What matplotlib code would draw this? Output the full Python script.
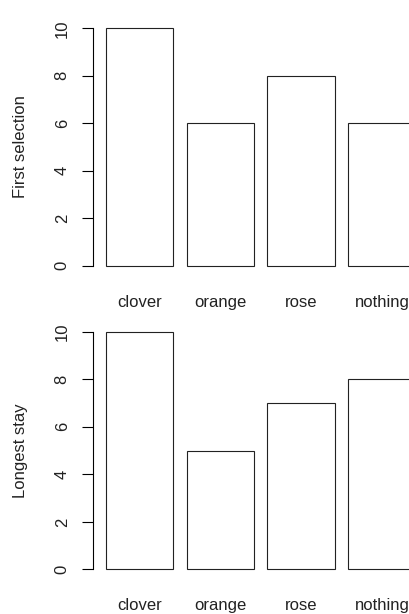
import numpy as np
import matplotlib.pyplot as plt

plt.rcParams['font.family'] = ['Liberation Sans', 'DejaVu Sans']

categories = ['clover', 'orange', 'rose', 'nothing']
first_selection = [10, 6, 8, 6]
longest_stay = [10, 5, 7, 8]

# bar positions like R's barplot: width 1, space 0.2
width = 1.0
space = 0.2
lefts = space + np.arange(len(categories)) * (width + space)
centers = lefts + width / 2

fig = plt.figure(figsize=(4.1, 6.14), dpi=100)

def panel(rect, values, ylabel):
    ax = fig.add_axes(rect)
    ax.bar(lefts, values, width=width, align='edge', color='white',
           edgecolor='#222222', linewidth=0.8)
    ax.set_xlim(0.016, 4.715)
    ax.set_ylim(-0.4, 10.4)
    for s in ['top', 'right', 'bottom']:
        ax.spines[s].set_visible(False)
    ax.spines['left'].set_bounds(0, 10)
    ax.spines['left'].set_linewidth(0.8)
    ax.set_yticks(range(0, 11, 2))
    ax.set_yticklabels([str(v) for v in range(0, 11, 2)], rotation=90,
                       va='center', fontsize=12, color='#222222')
    ax.tick_params(axis='y', length=8, width=0.8, pad=9)
    ax.set_xticks(centers)
    ax.set_xticklabels(categories, fontsize=12, color='#222222')
    ax.tick_params(axis='x', length=0, pad=14)
    ax.set_ylabel(ylabel, fontsize=12, color='#222222', labelpad=19)
    return ax

panel([0.2276, 0.5518, 0.7724, 0.4176], first_selection, 'First selection')
panel([0.2276, 0.0573, 0.7724, 0.4176], longest_stay, 'Longest stay')

fig.savefig('out.png', dpi=100)
